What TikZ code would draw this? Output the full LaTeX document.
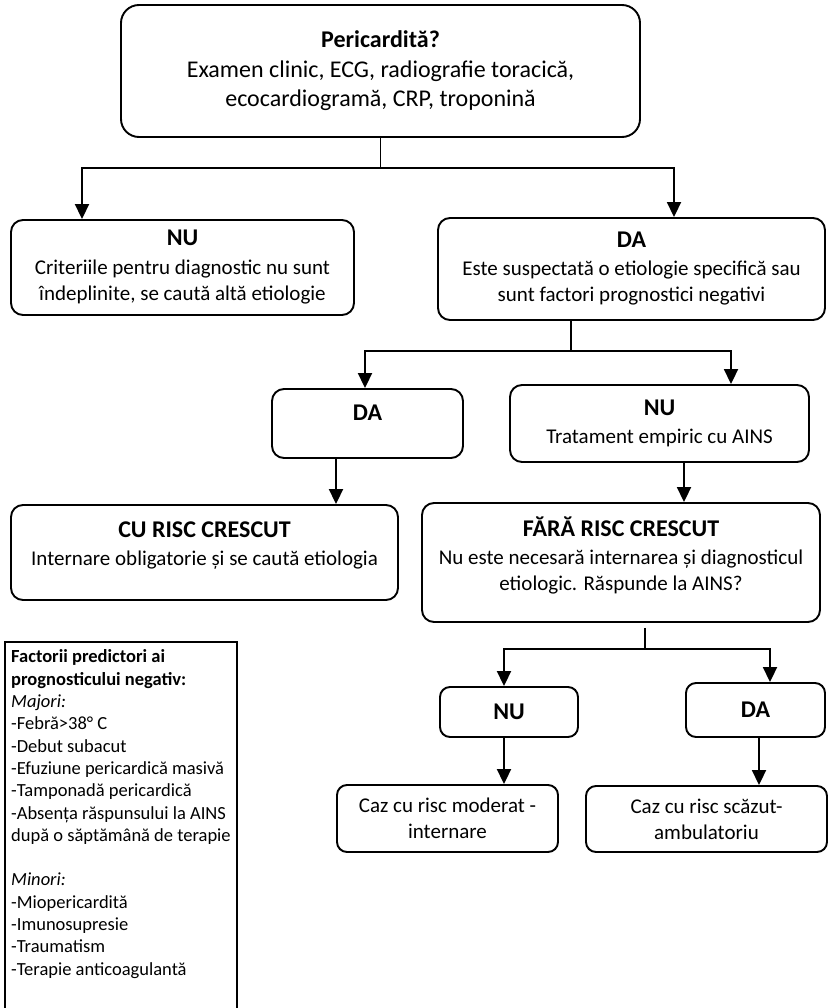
\documentclass[tikz,border=0pt]{standalone}
\usepackage{fontspec}
\setmainfont{Carlito}
\usepackage{tikz}
\usetikzlibrary{arrows.meta, positioning}

\newcommand{\boxtitle}[1]{{\fontsize{24}{29}\selectfont\bfseries #1}}

\begin{document}
\begin{tikzpicture}[
  x=1pt, y=-1pt,
  box/.style={
    rectangle,
    draw,
    rounded corners=12pt,
    line width=1.9pt,
    align=center,
    inner sep=0pt
  },
  line/.style={line width=1.9pt},
  arrow/.style={-{Triangle[length=15pt,width=14pt]}, line width=1.9pt},
  every node/.append style={font=\fontsize{21}{26}\selectfont}
]
\useasboundingbox (0,0) rectangle (828,1008);

% Nodes (decision tree)
\node[box, rounded corners=18pt, minimum width=519pt, minimum height=132pt, font=\fontsize{24}{29.5}\selectfont] (peri) at (380.5,71) {\textbf{Pericardită?}\\ Examen clinic, ECG, radiografie toracică,\\ ecocardiogramă, CRP, troponină};
\node[box, minimum width=343pt, minimum height=95pt] (nuDiag) at (182.5,267.5) {\boxtitle{NU}\\[3pt] Criteriile pentru diagnostic nu sunt\\ îndeplinite, se caută altă etiologie};
\node[box, minimum width=387pt, minimum height=102pt] (daEtio) at (631.5,269) {\boxtitle{DA}\\[2pt] Este suspectată o etiologie specifică sau\\ sunt factori prognostici negativi};
\node[box, minimum width=191pt, minimum height=69pt, text depth=22pt] (daSpec) at (367.5,423.5) {\boxtitle{DA}};
\node[box, minimum width=299pt, minimum height=77pt] (nuSpec) at (659.5,423.5) {\boxtitle{NU}\\[2pt] Tratament empiric cu AINS};
\node[box, minimum width=387pt, minimum height=95pt, text depth=18pt] (highRisk) at (204.5,552.5) {\boxtitle{CU RISC CRESCUT}\\[2pt] Internare obligatorie și se caută etiologia};
\node[box, minimum width=398pt, minimum height=119pt, text depth=17pt] (lowRisk) at (621,562.5) {\boxtitle{FĂRĂ RISC CRESCUT}\\[2pt] Nu este necesară internarea și diagnosticul\\ etiologic. Răspunde la AINS?};
\node[box, rounded corners=10pt, minimum width=138pt, minimum height=50pt] (nuAins) at (509,712) {\boxtitle{NU}};
\node[box, rounded corners=10pt, minimum width=139pt, minimum height=54pt] (daAins) at (755.5,710) {\boxtitle{DA}};
\node[box, rounded corners=10pt, minimum width=221pt, minimum height=67pt] (moderate) at (447.5,818.5) {Caz cu risc moderat -\\ internare};
\node[box, rounded corners=10pt, minimum width=241pt, minimum height=66pt] (ambulant) at (706.5,819) {Caz cu risc scăzut-\\ ambulatoriu};

% Legend
\node[draw, line width=1.9pt, anchor=north west, inner xsep=6pt, inner ysep=8pt, align=left, minimum width=232pt, font=\fontsize{18.5}{22.3}\selectfont] (factors) at (4,641) {\textbf{Factorii predictori ai}\\
\textbf{prognosticului negativ:}\\
\textit{Majori:}\\
-Febră>38° C\\
-Debut subacut\\
-Efuziune pericardică masivă\\
-Tamponadă pericardică\\
-Absența răspunsului la AINS\\
după o săptămână de terapie\\[22.3pt]
\textit{Minori:}\\
-Miopericardită\\
-Imunosupresie\\
-Traumatism\\
-Terapie anticoagulantă\\[40pt]
\mbox{}};

% Arrows
\coordinate (splitTop) at (380.5,168);
\draw[line] (peri.south) -- (splitTop);
\draw[arrow] (splitTop) -| ([xshift=-100.5pt]nuDiag.north);
\draw[arrow] (splitTop) -| ([xshift=42.5pt]daEtio.north);

\coordinate (splitEtio) at (571,351);
\draw[line] (daEtio.south -| splitEtio) -- (splitEtio);
\draw[arrow] (splitEtio) -| ([xshift=-2.5pt]daSpec.north);
\draw[arrow] (splitEtio) -| ([xshift=71.5pt]nuSpec.north);

\coordinate (daDrop) at ([xshift=-31.5pt]daSpec.south);
\draw[arrow] (daDrop) -- (daDrop |- highRisk.north);
\coordinate (nuDrop) at ([xshift=24.5pt]nuSpec.south);
\draw[arrow] (nuDrop) -- (nuDrop |- lowRisk.north);

\coordinate (splitAins) at (645,649);
\draw[line] ([yshift=-5pt]lowRisk.south -| splitAins) -- (splitAins);
\draw[arrow] (splitAins) -| ([xshift=-5pt]nuAins.north);
\draw[arrow] (splitAins) -| ([xshift=14.5pt]daAins.north);

\coordinate (nuAinsDrop) at ([xshift=-5pt]nuAins.south);
\draw[arrow] (nuAinsDrop) -- (nuAinsDrop |- moderate.north);
\coordinate (daAinsDrop) at ([xshift=3.5pt]daAins.south);
\draw[arrow] (daAinsDrop) -- (daAinsDrop |- ambulant.north);

\end{tikzpicture}
\end{document}
